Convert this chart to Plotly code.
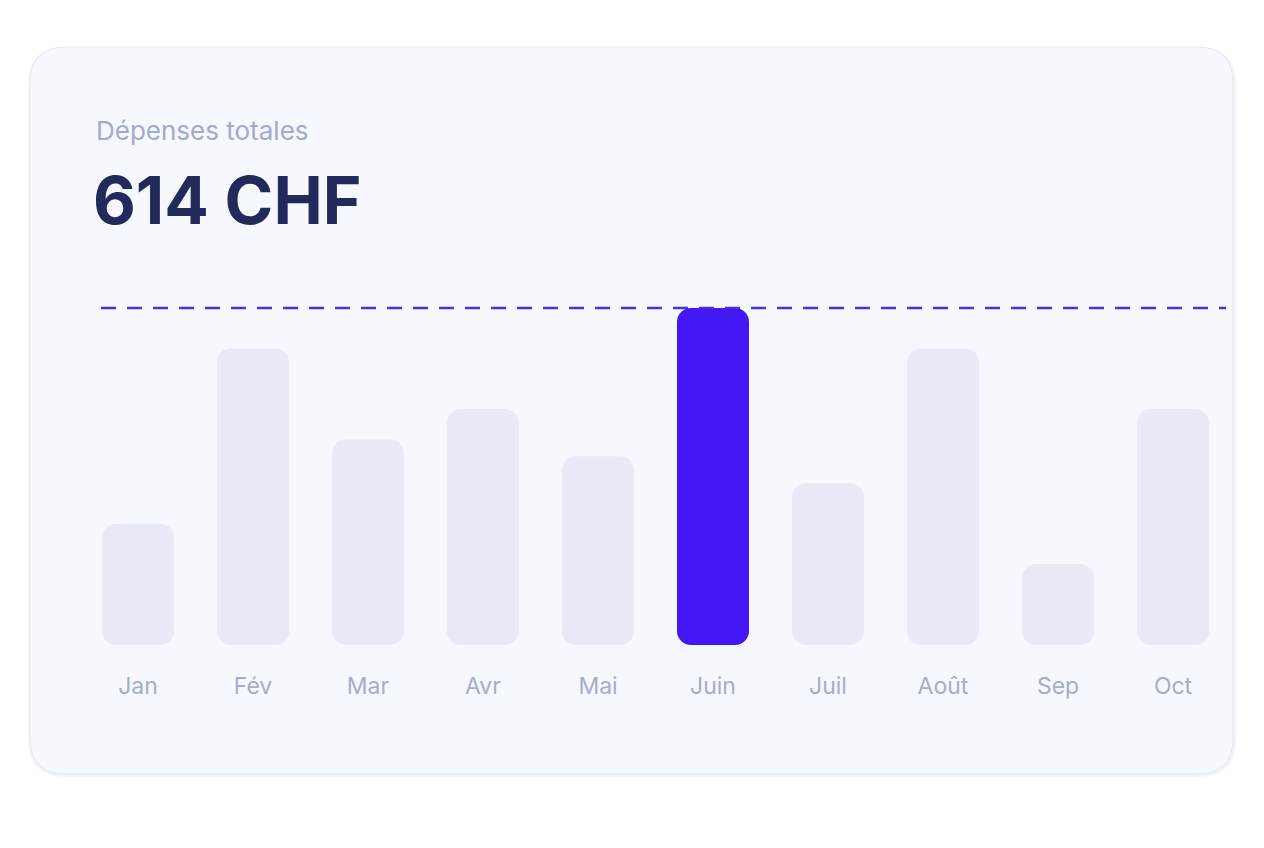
import plotly.graph_objects as go

OFF = 8  # default page margin of the html body
W, H = 1264 - 2 * OFF, 848 - 2 * OFF

months = ["Jan", "Fév", "Mar", "Avr", "Mai", "Juin", "Juil", "Août", "Sep", "Oct"]
values = [36, 88, 61, 70, 56, 100, 48, 88, 24, 70]
highlight = "Juin"
title_small = "Dépenses totales"
title_big = "614 CHF"

BAR_GREY = "#E8EAF7"
BAR_ACTIVE = "#4318F5"
CARD_BG = "#F5F9FE"
CARD_BORDER = "#E4E8F1"
FONT = "Inter, 'Open Sans', DejaVu Sans"

def px(x):
    return (x - OFF) / W

def py(y):
    return 1 - (y - OFF) / H

def rounded_rect(x0, y0, x1, y1, r):
    pts = [
        f"M {px(x0 + r)} {py(y0)}",
        f"L {px(x1 - r)} {py(y0)}",
        f"Q {px(x1)} {py(y0)} {px(x1)} {py(y0 + r)}",
        f"L {px(x1)} {py(y1 - r)}",
        f"Q {px(x1)} {py(y1)} {px(x1 - r)} {py(y1)}",
        f"L {px(x0 + r)} {py(y1)}",
        f"Q {px(x0)} {py(y1)} {px(x0)} {py(y1 - r)}",
        f"L {px(x0)} {py(y0 + r)}",
        f"Q {px(x0)} {py(y0)} {px(x0 + r)} {py(y0)}",
        "Z",
    ]
    return " ".join(pts)

colors = [BAR_ACTIVE if m == highlight else BAR_GREY for m in months]

# an explicit base makes plotly round both ends of every bar
fig = go.Figure(
    go.Bar(
        x=months,
        y=values,
        base=[0] * len(values),
        marker=dict(color=colors, line=dict(width=0)),
        hoverinfo="skip",
    )
)

base_px, top_px, plot_top_px = 645, 308, 290
ymax = max(values)
yrange_top = ymax * (base_px - plot_top_px) / (base_px - top_px)

shapes = [
    dict(type="path", xref="paper", yref="paper",
         path=rounded_rect(28, 47, 1236, 777, 38),
         fillcolor="rgba(200,205,225,0.22)", line=dict(width=0), layer="below"),
    dict(type="path", xref="paper", yref="paper",
         path=rounded_rect(30, 47, 1233, 774, 36),
         fillcolor=CARD_BG, line=dict(color=CARD_BORDER, width=1), layer="below"),
    dict(type="line", xref="paper", yref="y",
         x0=px(101), x1=px(1226), y0=ymax, y1=ymax,
         line=dict(color="#4A2FE0", width=2.5, dash="15px,11px"), layer="above"),
]

annotations = [
    dict(text=title_small, xref="paper", yref="paper", x=px(94), y=py(131),
         xanchor="left", yanchor="middle", showarrow=False,
         font=dict(family=FONT, size=26, color="#A4AACB")),
    dict(text="<b>" + title_big + "</b>", xref="paper", yref="paper", x=px(91), y=py(200),
         xanchor="left", yanchor="middle", showarrow=False,
         font=dict(family=FONT, size=66, color="#212A5B")),
]

fig.update_layout(
    width=W, height=H,
    margin=dict(l=0, r=0, t=0, b=0),
    paper_bgcolor="white",
    plot_bgcolor="rgba(0,0,0,0)",
    bargap=1 - 72 / 115,
    barcornerradius=14,
    showlegend=False,
    shapes=shapes,
    annotations=annotations,
    xaxis=dict(
        domain=[px(80.5), px(1230.5)],
        range=[-0.5, len(months) - 0.5],
        showgrid=False, zeroline=False, showline=False,
        ticks="", ticklabelstandoff=25,
        tickfont=dict(family=FONT, size=23, color="#A7ACCD"),
        fixedrange=True,
    ),
    yaxis=dict(
        domain=[py(base_px), py(plot_top_px)],
        range=[0, yrange_top],
        visible=False,
        fixedrange=True,
    ),
)

fig.write_html("out.html")
